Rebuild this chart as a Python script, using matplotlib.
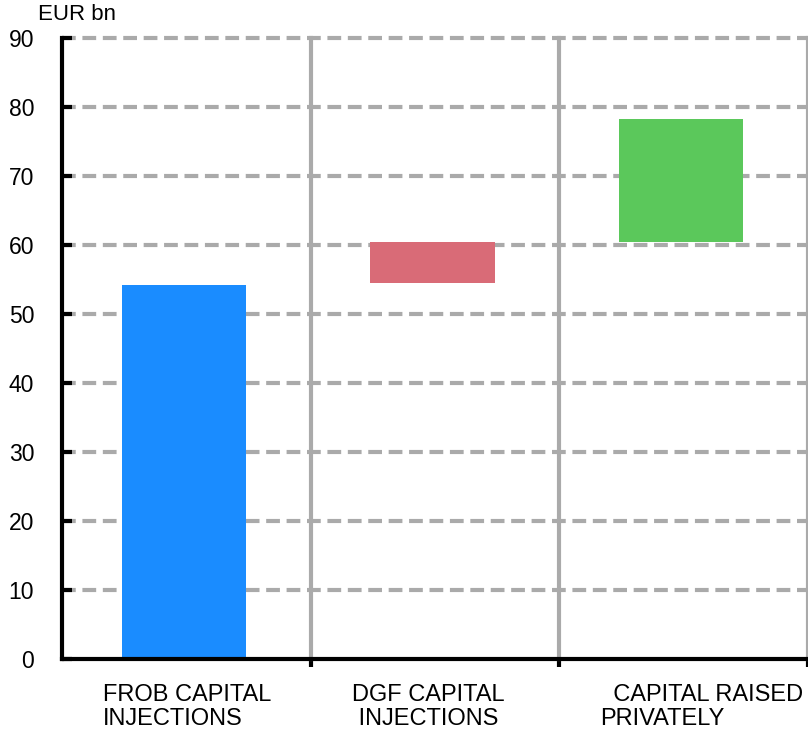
import matplotlib
matplotlib.use("Agg")
import matplotlib.pyplot as plt

# data
categories = ["FROB CAPITAL\nINJECTIONS", "DGF CAPITAL\n INJECTIONS", "  CAPITAL RAISED\nPRIVATELY"]
bottoms = [0.0, 54.5, 60.5]
tops = [54.2, 60.4, 78.3]
colors = ["#1a8cff", "#d96b77", "#5bc85b"]
yticks = [0, 10, 20, 30, 40, 50, 60, 70, 80, 90]

plt.rcParams['font.family'] = ['Liberation Sans', 'DejaVu Sans']

fig = plt.figure(figsize=(8.08, 7.35), dpi=100)
ax = fig.add_axes([62 / 808, 1 - 659 / 735, 1 - 62 / 808, (659 - 38) / 735])

x = list(range(len(categories)))
heights = [t - b for t, b in zip(tops, bottoms)]
ax.bar([i - 0.01 for i in x], heights, bottom=bottoms, width=0.5, color=colors, zorder=3)

ax.set_xlim(-0.5, len(categories) - 0.5)
ax.set_ylim(0, 90)

# dashed horizontal gridlines
for v in yticks[1:]:
    ax.axhline(v, color="#aaaaaa", lw=3, ls=(0, (3.3, 1.6)), zorder=1, clip_on=False)

# vertical separators between categories
for b in [i + 0.5 for i in x]:
    ax.axvline(b, color="#aaaaaa", lw=3, zorder=2, clip_on=False)

for s in ["top", "right"]:
    ax.spines[s].set_visible(False)
for s in ["left", "bottom"]:
    ax.spines[s].set_linewidth(3)
    ax.spines[s].set_color("black")
    ax.spines[s].set_zorder(4)

ax.set_yticks(yticks)
ax.set_yticklabels([str(v) for v in yticks], fontsize=16.5)
ax.tick_params(axis="y", direction="in", length=7, width=3, pad=20)

# ticks at the separators on the x-axis
ax.set_xticks([i + 0.5 for i in x])
ax.set_xticklabels([])
ax.tick_params(axis="x", direction="out", length=6, width=3)

# category labels, left-aligned blocks under each column
for i, lab in enumerate(categories):
    ax.annotate(lab, xy=(i, 0), xycoords=("data", "axes fraction"),
                xytext=(-60, -18), textcoords="offset points",
                ha="left", va="top", multialignment="left",
                fontsize=17, linespacing=1.1)

fig.text(38 / 808, 1 - 14 / 735, "EUR bn", fontsize=16, ha="left", va="center")

fig.savefig("out.png", dpi=100)
